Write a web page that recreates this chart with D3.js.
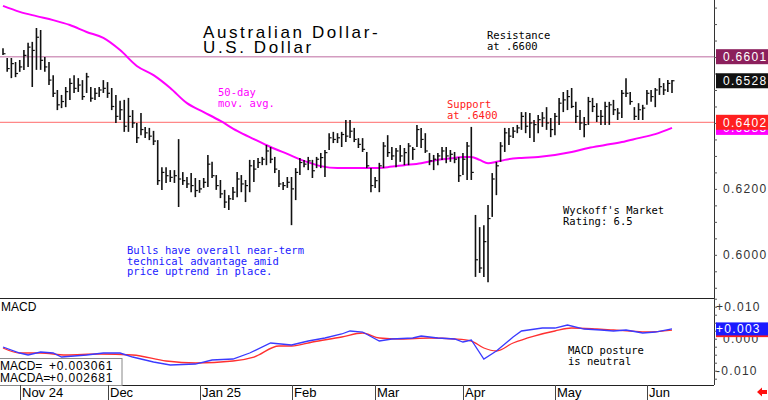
<!DOCTYPE html>
<html>
<head>
<meta charset="utf-8">
<script src="https://cdn.jsdelivr.net/npm/d3@7"></script>
<style>
  body { margin: 0; background: #fff; }
  text { font-family: "Liberation Sans", Arial, sans-serif; }
  .mono { font-family: "DejaVu Sans Mono", monospace; font-size: 10.5px; }
</style>
</head>
<body>
<div id="chart"></div>
<script>
// daily bars, Oct 28 2024 .. Jun 10 2025 (trading days)
const highs = [
  .6627, .6597, .6597, .6585, .6591, .6621, .6643, .6646, .6688, .6682,
  .6600, .6585, .6545, .6500, .6485, .6509, .6536, .6545, .6536, .6530,
  .6552, .6509, .6506, .6509, .6530, .6524, .6506, .6485, .6467, .6470,
  .6476, .6439, .6400, .6430, .6388, .6385, .6376, .6348, .6266, .6266,
  .6257, .6257, .6351, .6251, .6236, .6248, .6233, .6227, .6233, .6303,
  .6282, .6242, .6227, .6197, .6181, .6206, .6251, .6242, .6227, .6288,
  .6288, .6294, .6297, .6333, .6327, .6297, .6257, .6221, .6236, .6236,
  .6263, .6294, .6288, .6297, .6288, .6297, .6309, .6318, .6369, .6373,
  .6369, .6373, .6409, .6409, .6385, .6354, .6354, .6312, .6263, .6236,
  .6279, .6342, .6363, .6327, .6324, .6333, .6324, .6339, .6327, .6394,
  .6385, .6369, .6309, .6303, .6309, .6327, .6327, .6318, .6312, .6297,
  .6309, .6342, .6388, .6121, .6084, .6090, .6151, .6248, .6282, .6342,
  .6385, .6385, .6388, .6394, .6433, .6433, .6430, .6409, .6424, .6433,
  .6448, .6415, .6430, .6476, .6494, .6500, .6506, .6464, .6439, .6418,
  .6479, .6476, .6460, .6439, .6464, .6464, .6470, .6445, .6500, .6536,
  .6494, .6448, .6460, .6455, .6500, .6500, .6506, .6536, .6521, .6530,
  .6530
]
const lows = [
  .6606, .6555, .6536, .6539, .6555, .6561, .6570, .6509, .6561, .6561,
  .6555, .6515, .6479, .6439, .6445, .6448, .6470, .6491, .6494, .6470,
  .6491, .6464, .6470, .6479, .6491, .6476, .6439, .6400, .6409, .6373,
  .6373, .6385, .6339, .6363, .6354, .6348, .6333, .6212, .6197, .6218,
  .6221, .6218, .6145, .6212, .6203, .6190, .6175, .6188, .6203, .6206,
  .6233, .6197, .6172, .6142, .6136, .6166, .6175, .6190, .6160, .6190,
  .6221, .6263, .6272, .6272, .6278, .6248, .6206, .6197, .6203, .6090,
  .6166, .6242, .6266, .6257, .6233, .6263, .6263, .6236, .6318, .6339,
  .6339, .6327, .6342, .6354, .6342, .6324, .6312, .6263, .6190, .6203,
  .6190, .6263, .6297, .6288, .6266, .6282, .6272, .6272, .6288, .6327,
  .6324, .6309, .6272, .6257, .6272, .6288, .6278, .6282, .6278, .6221,
  .6242, .6227, .6227, .5933, .5945, .5933, .5917, .6115, .6181, .6282,
  .6312, .6333, .6354, .6369, .6379, .6369, .6354, .6342, .6369, .6388,
  .6379, .6357, .6363, .6394, .6433, .6439, .6445, .6400, .6379, .6357,
  .6394, .6433, .6403, .6394, .6394, .6394, .6424, .6409, .6415, .6479,
  .6455, .6409, .6409, .6409, .6455, .6464, .6448, .6485, .6485, .6494,
  .6491
]
const closes = [
  .6610, .6565, .6580, .6550, .6570, .6605, .6630, .6620, .6660, .6590,
  .6570, .6530, .6490, .6455, .6465, .6495, .6520, .6505, .6515, .6480,
  .6540, .6475, .6490, .6500, .6505, .6490, .6450, .6420, .6440, .6390,
  .6420, .6400, .6355, .6380, .6370, .6360, .6345, .6225, .6250, .6240,
  .6235, .6240, .6230, .6225, .6215, .6210, .6195, .6200, .6220, .6275,
  .6240, .6210, .6185, .6160, .6170, .6190, .6230, .6215, .6210, .6270,
  .6260, .6280, .6290, .6315, .6290, .6260, .6215, .6210, .6220, .6200,
  .6250, .6280, .6275, .6285, .6255, .6290, .6295, .6310, .6355, .6350,
  .6355, .6365, .6360, .6375, .6350, .6335, .6320, .6270, .6210, .6225,
  .6270, .6330, .6310, .6300, .6315, .6300, .6310, .6330, .6320, .6380,
  .6350, .6315, .6285, .6290, .6300, .6315, .6300, .6305, .6290, .6240,
  .6290, .6330, .6250, .5985, .5960, .6040, .6110, .6230, .6270, .6330,
  .6370, .6360, .6375, .6385, .6420, .6390, .6400, .6395, .6410, .6415,
  .6400, .6380, .6420, .6460, .6470, .6480, .6450, .6420, .6400, .6395,
  .6465, .6450, .6420, .6420, .6450, .6455, .6440, .6430, .6490, .6490,
  .6465, .6420, .6440, .6445, .6490, .6480, .6500, .6510, .6500, .6520,
  .6528
]

// 50-day moving average, read at these bar indexes
const maIdx = [0, 4, 8, 12, 16, 20, 24, 28, 32, 36, 40, 44, 48, 52, 56, 60, 64, 68, 72, 76, 80, 84,
  88, 92, 96, 100, 104, 108, 110, 112, 114, 116, 118, 120, 124, 128, 132, 136, 140, 144, 148, 152, 156, 160]
const maVal = [.6755, .6737, .6724, .6712, .6697, .6676, .6658, .6621, .6573, .6545, .6506, .6460,
  .6433, .6406, .6376, .6351, .6327, .6306, .6285, .6269, .6263, .6263, .6263, .6266, .6272, .6278,
  .6288, .6294, .6297, .6297, .6288, .6278, .6282, .6288, .6294, .6297, .6303, .6312, .6324, .6333,
  .6342, .6354, .6366, .6385]

// MACD and its average (MACDA)
const macdIdx = [0, 4, 6, 9, 12, 14, 17, 20, 24, 28, 31, 36, 40, 46, 50, 55, 59, 64, 69, 73, 77, 81,
  83, 86, 90, 93, 98, 100, 104, 108, 110, 112, 115, 118, 122, 124, 129, 132, 135, 139, 143, 146, 149,
  153, 156, 160]
const macdVal = [-.00259, -.00447, -.00509, -.00416, -.00447, -.00572, -.00541, -.00509, -.00447,
  -.00447, -.00572, -.00728, -.00822, -.00791, -.00666, -.00634, -.00447, -.00134, -.00197, -.00072,
  .00022, .00147, .00241, .00209, -.00072, -.00009, .00022, .00084, .00022, -.00009, -.00103, -.00041,
  -.00634, -.00384, .00053, .00241, .00334, .00334, .00428, .00303, .00272, .00241, .00272, .00178,
  .00209, .003061]
const sigIdx = [0, 4, 9, 15, 23, 31, 39, 46, 55, 60, 66, 69, 74, 81, 86, 90, 95, 102, 108, 112, 115,
  118, 122, 127, 132, 136, 142, 146, 150, 154, 160]
const sigVal = [-.00291, -.00447, -.00447, -.00509, -.00478, -.00509, -.00697, -.00759, -.00697,
  -.00572, -.00228, -.00228, -.00103, .00053, .00178, .00022, -.00009, .00022, -.00009, -.00072,
  -.00291, -.00384, -.00134, .00084, .00241, .00334, .00303, .00272, .00241, .00209, .002681]

const monthLabels = ['Nov 24', 'Dec', 'Jan 25', 'Feb', 'Mar', 'Apr', 'May', 'Jun']
const monthStart = [4, 25, 47, 69, 89, 110, 132, 154]

const resistance = 0.6601
const support = 0.6402
// 0.6400 and 0.6600 sit under the value boxes, so only these show
const priceTicks = [0.60, 0.62]
const macdTicks = [-0.01, 0, 0.01]

const dims = { width: 768, height: 400, axisX: 714, priceBottom: 298, macdTop: 299, macdBottom: 385 }

const svg = d3.select('#chart')
  .append('svg')
  .attr('width', dims.width)
  .attr('height', dims.height)

const xScale = d3.scaleLinear().domain([0, highs.length - 1]).range([3, 672])
const yPrice = d3.scaleLinear().domain([0.5869, 0.6773]).range([dims.priceBottom, 0])
const yMacd = d3.scaleLinear().domain([-0.01447, 0.01241]).range([dims.macdBottom, dims.macdTop])

// panel frames
svg.append('line').attr('x1', dims.axisX + 0.5).attr('x2', dims.axisX + 0.5)
  .attr('y1', 0).attr('y2', dims.macdBottom).attr('stroke', '#333')
svg.append('line').attr('x1', 0).attr('x2', dims.axisX)
  .attr('y1', dims.priceBottom + 0.5).attr('y2', dims.priceBottom + 0.5).attr('stroke', '#222')
svg.append('line').attr('x1', 0).attr('x2', dims.axisX)
  .attr('y1', dims.macdBottom + 0.5).attr('y2', dims.macdBottom + 0.5).attr('stroke', '#222')

// right price axis
const priceAxis = d3.axisRight(yPrice)
  .tickValues(d3.range(0.59, 0.676, 0.005))
  .tickSize(3)
  .tickFormat('')
svg.append('g').attr('transform', `translate(${dims.axisX},0)`).call(priceAxis)
  .call(g => g.select('.domain').remove())
  .call(g => g.selectAll('line').attr('stroke', '#555'))

svg.append('g').selectAll('text')
  .data(priceTicks)
  .enter()
  .append('text')
  .attr('x', 723)
  .attr('y', d => yPrice(d) + 4)
  .attr('font-size', 12)
  .attr('letter-spacing', 1.3)
  .attr('fill', '#333')
  .text(d => d.toFixed(4))

// support / resistance lines
svg.append('line').attr('x1', 0).attr('x2', dims.axisX)
  .attr('y1', yPrice(resistance)).attr('y2', yPrice(resistance))
  .attr('stroke', '#d39cc0').attr('stroke-width', 1.6)
svg.append('line').attr('x1', 0).attr('x2', dims.axisX)
  .attr('y1', yPrice(support)).attr('y2', yPrice(support))
  .attr('stroke', '#ff6b6b').attr('stroke-width', 1)

// moving average
const maLine = d3.line()
  .x((d, i) => xScale(maIdx[i]))
  .y(d => yPrice(d))
  .curve(d3.curveMonotoneX)
svg.append('path').datum(maVal)
  .attr('d', maLine)
  .attr('fill', 'none')
  .attr('stroke', '#ff00ff')
  .attr('stroke-width', 2)

// price bars
const bars = svg.append('g').attr('stroke', '#111').attr('stroke-width', 1.6)
bars.selectAll('line.hl')
  .data(highs)
  .enter()
  .append('line')
  .attr('class', 'hl')
  .attr('x1', (d, i) => xScale(i))
  .attr('x2', (d, i) => xScale(i))
  .attr('y1', d => yPrice(d))
  .attr('y2', (d, i) => yPrice(lows[i]))
bars.selectAll('line.cl')
  .data(closes)
  .enter()
  .append('line')
  .attr('class', 'cl')
  .attr('stroke-width', 1.2)
  .attr('x1', (d, i) => xScale(i))
  .attr('x2', (d, i) => xScale(i) + 2.5)
  .attr('y1', d => yPrice(d))
  .attr('y2', d => yPrice(d))

// right side value boxes
function valueBox(y, fill, label, h) {
  svg.append('rect')
    .attr('x', dims.axisX + 2).attr('y', y - h / 2)
    .attr('width', dims.width - dims.axisX - 2).attr('height', h)
    .attr('fill', fill)
  svg.append('text')
    .attr('x', 723).attr('y', y + 4.5)
    .attr('font-size', 12).attr('letter-spacing', 1.3)
    .attr('fill', '#fff')
    .text(label)
}
const lastMa = maVal[maVal.length - 1]
const lastClose = closes[closes.length - 1]
valueBox(yPrice(lastMa), '#ff00ff', lastMa.toFixed(4), 14)
valueBox(yPrice(support), '#ff1f1f', support.toFixed(4), 15)
valueBox(yPrice(resistance), '#8c1f5c', resistance.toFixed(4), 15)
valueBox(yPrice(lastClose), '#111', lastClose.toFixed(4), 15)

// title and notes
svg.append('text').attr('x', 203).attr('y', 38)
  .attr('font-size', 17).attr('letter-spacing', 2.6).attr('fill', '#000')
  .text('Australian Dollar-')
svg.append('text').attr('x', 203).attr('y', 53)
  .attr('font-size', 17).attr('letter-spacing', 2.6).attr('fill', '#000')
  .text('U.S. Dollar')

function note(x, y, lines, color) {
  svg.append('g').selectAll('text')
    .data(lines)
    .enter()
    .append('text')
    .attr('class', 'mono')
    .attr('x', x)
    .attr('y', (d, i) => y + i * 10.5)
    .attr('fill', color)
    .text(d => d)
}
note(487, 39, ['Resistance', 'at .6600'], '#000')
note(218, 96, ['50-day', 'mov. avg.'], '#ff00ff')
note(447, 108, ['Support', 'at .6400'], '#ff2020')
note(563, 214, ["Wyckoff's Market", 'Rating: 6.5'], '#000')
note(127, 254, ['Bulls have overall near-term', 'technical advantage amid', 'price uptrend in place.'], '#1a1aff')
note(568, 354, ['MACD posture', 'is neutral'], '#000')

// MACD panel
const macdAxis = d3.axisRight(yMacd)
  .tickValues(d3.range(-0.0125, 0.0126, 0.0025))
  .tickSize(3)
  .tickFormat('')
svg.append('g').attr('transform', `translate(${dims.axisX},0)`).call(macdAxis)
  .call(g => g.select('.domain').remove())
  .call(g => g.selectAll('line').attr('stroke', '#555'))

svg.append('g').selectAll('text')
  .data(macdTicks)
  .enter()
  .append('text')
  .attr('x', d => d === 0 ? 723 : 716)
  .attr('y', d => yMacd(d) + 4)
  .attr('font-size', 12)
  .attr('letter-spacing', 1.3)
  .attr('fill', '#333')
  .text(d => (d > 0 ? '+' : '') + d.toFixed(3))

const sigLine = d3.line()
  .x((d, i) => xScale(sigIdx[i]))
  .y(d => yMacd(d))
  .curve(d3.curveMonotoneX)
svg.append('path').datum(sigVal)
  .attr('d', sigLine)
  .attr('fill', 'none')
  .attr('stroke', '#ff3030')
  .attr('stroke-width', 1.3)

const macdLine = d3.line()
  .x((d, i) => xScale(macdIdx[i]))
  .y(d => yMacd(d))
svg.append('path').datum(macdVal)
  .attr('d', macdLine)
  .attr('fill', 'none')
  .attr('stroke', '#3a3aff')
  .attr('stroke-width', 1.3)

const lastMacd = macdVal[macdVal.length - 1]
const lastSig = sigVal[sigVal.length - 1]
svg.append('rect')
  .attr('x', dims.axisX + 2).attr('y', yMacd(lastSig) - 6)
  .attr('width', dims.width - dims.axisX - 2).attr('height', 13)
  .attr('fill', '#ff1f1f')
svg.append('rect')
  .attr('x', dims.axisX + 2).attr('y', yMacd(lastMacd) - 6.5)
  .attr('width', dims.width - dims.axisX - 2).attr('height', 13)
  .attr('fill', '#1a1aff')
svg.append('text')
  .attr('x', 716).attr('y', yMacd(lastMacd) + 4.5)
  .attr('font-size', 12).attr('letter-spacing', 1.3)
  .attr('fill', '#fff')
  .text('+' + lastMacd.toFixed(3))

svg.append('text').attr('x', 1).attr('y', 311).attr('font-size', 12).text('MACD')

svg.append('rect').attr('x', -1).attr('y', 358.5).attr('width', 123).attr('height', 27)
  .attr('fill', '#fff').attr('stroke', '#888')
svg.append('g').selectAll('text')
  .data([['MACD=', lastMacd], ['MACDA=', lastSig]])
  .enter()
  .append('g')
  .each(function (d, i) {
    const g = d3.select(this)
    g.append('text').attr('x', 0).attr('y', 370 + i * 12).attr('font-size', 12).text(d[0])
    g.append('text').attr('x', 49).attr('y', 370 + i * 12).attr('font-size', 12)
      .attr('letter-spacing', 0.8).text('+' + d[1].toFixed(6))
  })

// date axis
const months = svg.append('g')
months.selectAll('line')
  .data(monthStart)
  .enter()
  .append('line')
  .attr('x1', d => Math.round(xScale(d)) + 0.5)
  .attr('x2', d => Math.round(xScale(d)) + 0.5)
  .attr('y1', dims.macdBottom)
  .attr('y2', dims.height)
  .attr('stroke', '#444')
months.selectAll('text')
  .data(monthStart)
  .enter()
  .append('text')
  .attr('x', d => Math.round(xScale(d)) + 2)
  .attr('y', 397)
  .attr('font-size', 13)
  .attr('fill', '#000')
  .text((d, i) => monthLabels[i])

// small red arrow, bottom right
svg.append('path')
  .attr('d', 'M757,392 L762,387.5 L762,390 L767,390 L767,394 L762,394 L762,396.5 Z')
  .attr('fill', '#ff1010')
</script>
</body>
</html>
